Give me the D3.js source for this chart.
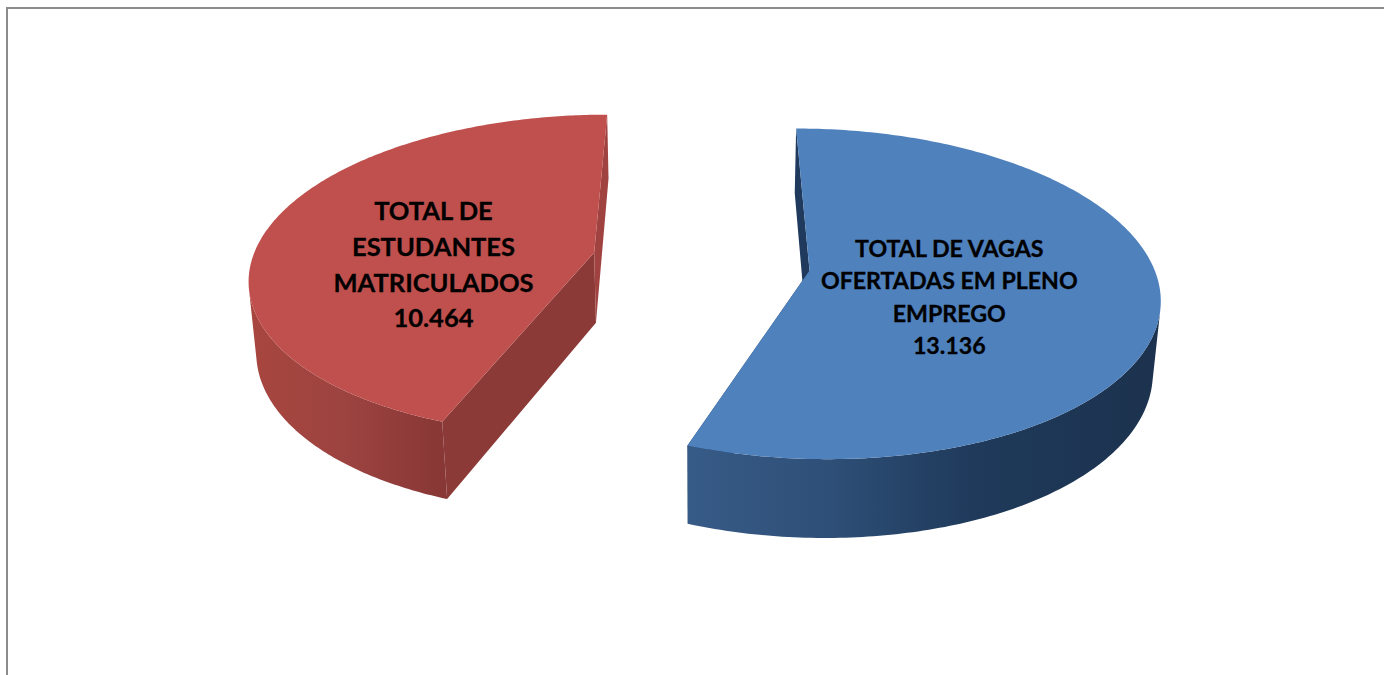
<!DOCTYPE html>
<html>
<head>
<meta charset="utf-8">
<script src="https://cdn.jsdelivr.net/npm/d3@7/dist/d3.min.js"></script>
<style>
html,body{margin:0;padding:0;background:#fff;overflow:hidden}
svg{display:block}
text{font-family:Lato,"Open Sans",sans-serif;font-weight:700;fill:#000;stroke:#000;stroke-width:0.3;text-anchor:middle}
</style>
</head>
<body>
<svg id="chart" width="1384" height="675"></svg>
<script>
const categories = ["TOTAL DE VAGAS OFERTADAS EM PLENO EMPREGO", "TOTAL DE ESTUDANTES MATRICULADOS"];
const values = [13136, 10464];
const valueLabels = ["13.136", "10.464"];
const labelLines = [
  ["TOTAL DE VAGAS", "OFERTADAS EM PLENO", "EMPREGO"],
  ["TOTAL DE", "ESTUDANTES", "MATRICULADOS"]
];
const topColors = ["#4F81BD", "#C0504D"];
const startCutColors = ["#1F3A5C", "#8C3A38"];
const endCutColors = ["#1F3A5C", "#A04340"];
const wallStops = [
  [[0, "#375B87"], [0.3, "#2E4F77"], [0.6, "#1F3A5B"], [1, "#1C324E"]],
  [[0, "#A8463F"], [0.5, "#9C4340"], [0.85, "#8D3A38"], [1, "#873735"]]
];

const W = 1384, H = 675;
const cx = 701, cy = 261.5, D = 2200, sinE = 0.461, cosE = Math.sqrt(1 - sinE * sinE), xScale = 0.99;
const radius = 346, explode = 110.5, depth = 81;

const project = (X, Y, Z) => {
  const yc = Y * sinE + Z * cosE;
  const d = D + Y * cosE - Z * sinE;
  const s = D / d;
  return [cx + X * s * xScale, cy - yc * s];
};

const svg = d3.select("#chart");
const defs = svg.append("defs");
svg.append("rect").attr("x", 7).attr("y", 8).attr("width", W + 20).attr("height", H + 20)
  .attr("fill", "#fff").attr("stroke", "#8c8c8c").attr("stroke-width", 2);

const pie = d3.pie().sort(null).value(d => d).startAngle(0).endAngle(2 * Math.PI);
const slices = pie(values);
const line = d3.line();
const labelOffsets = [[0.404, 16], [0.49, 26.5]];
const fontSizes = [23.2, 25.5], lineGaps = [32.5, 35.6];

slices.forEach((sl, i) => {
  const mid = (sl.startAngle + sl.endAngle) / 2;
  const ox = explode * Math.sin(mid), oy = explode * Math.cos(mid);
  const rimWorld = a => [ox + radius * Math.sin(a), oy + radius * Math.cos(a)];
  const rim = (a, z) => { const p = rimWorld(a); return project(p[0], p[1], z); };
  const apexTop = project(ox, oy, 0), apexBot = project(ox, oy, -depth);
  const n = 240;
  const angles = d3.range(n + 1).map(k => sl.startAngle + (sl.endAngle - sl.startAngle) * k / n);
  const topRim = angles.map(a => rim(a, 0));
  const botRim = angles.map(a => rim(a, -depth));

  const grad = defs.append("linearGradient").attr("id", "wall" + i)
    .attr("gradientUnits", "objectBoundingBox").attr("x1", 0).attr("x2", 1).attr("y1", 0).attr("y2", 0);
  wallStops[i].forEach(st => grad.append("stop").attr("offset", st[0]).attr("stop-color", st[1]));

  const g = svg.append("g").attr("class", "slice");
  // cut faces
  g.append("path").attr("d", line([apexTop, topRim[0], botRim[0], apexBot]) + "Z").attr("fill", startCutColors[i]);
  g.append("path").attr("d", line([apexTop, topRim[n], botRim[n], apexBot]) + "Z").attr("fill", endCutColors[i]);
  // outer wall: only the part whose outward normal faces the camera
  const front = angles.filter(a => {
    const p = rimWorld(a);
    return Math.sin(a) * (-p[0]) + Math.cos(a) * (-D * cosE - p[1]) > 0;
  });
  const ftop = front.map(a => rim(a, 0));
  const fbot = front.map(a => rim(a, -depth)).reverse();
  g.append("path").attr("d", line(ftop.concat(fbot)) + "Z").attr("fill", `url(#wall${i})`);
  // top face
  g.append("path").attr("d", line([apexTop].concat(topRim)) + "Z").attr("fill", topColors[i]);

  // label
  const lr = radius * labelOffsets[i][0];
  const lp = project(ox + lr * Math.sin(mid), oy + lr * Math.cos(mid), 0);
  const lines = labelLines[i].concat([valueLabels[i]]);
  const t = svg.append("text").attr("font-size", fontSizes[i]);
  lines.forEach((s, j) => {
    t.append("tspan").attr("x", lp[0])
      .attr("y", lp[1] + labelOffsets[i][1] + (j - 1.5) * lineGaps[i] + fontSizes[i] * 0.32)
      .text(s);
  });
});
</script>
</body>
</html>
